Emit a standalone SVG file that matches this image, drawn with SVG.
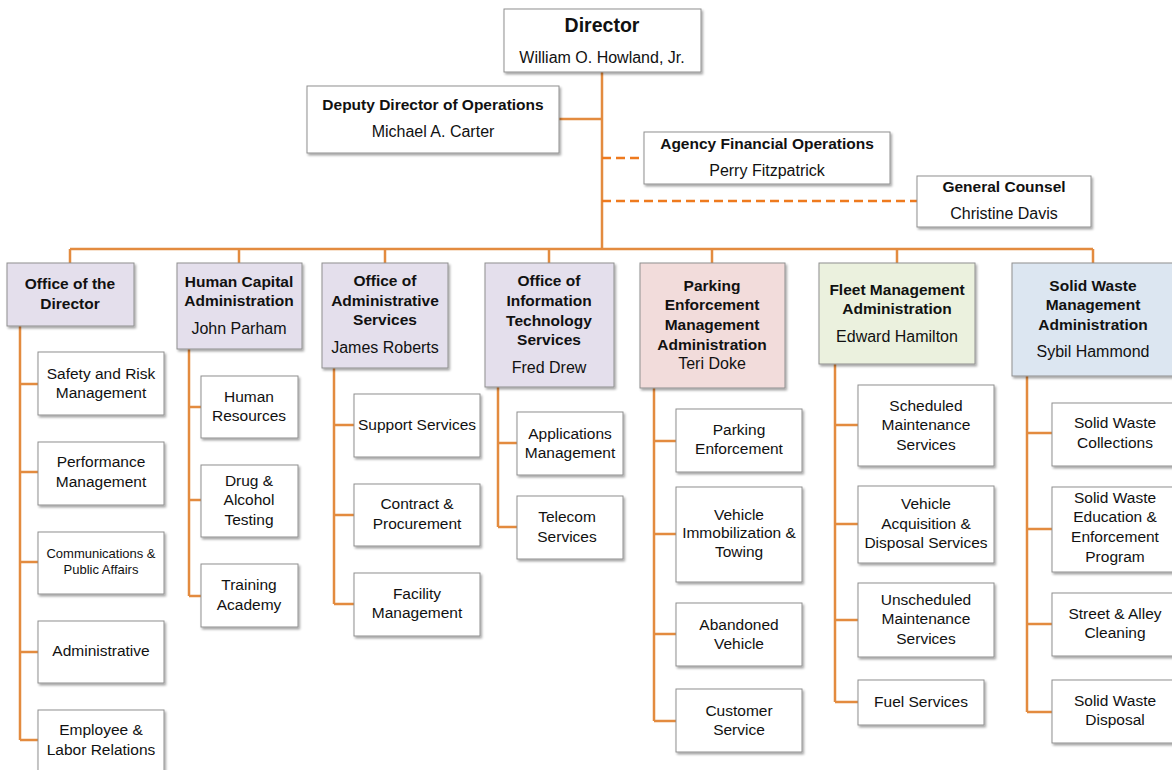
<svg xmlns="http://www.w3.org/2000/svg" width="1172" height="770" viewBox="0 0 1172 770">
<defs>
<filter id="sh" x="-10%" y="-10%" width="130%" height="130%">
<feDropShadow dx="1.5" dy="2" stdDeviation="1.2" flood-color="#000" flood-opacity="0.35"/>
</filter>
</defs>
<style>
.b{fill:#fff;stroke:#8f8f8f;stroke-width:1;filter:url(#sh)}
.p{fill:#E4DFEC}
.r{fill:#F2DCDB}
.g{fill:#EBF1DE}
.u{fill:#DCE6F1}
text{font-family:"Liberation Sans",Arial,sans-serif;fill:#111;text-anchor:middle}
.h{font-weight:bold;font-size:15.5px}
.n{font-size:16px}
.c{font-size:15.5px}
.s{font-size:13px}
.ln{fill:none;stroke:#E38B3F;stroke-width:2.5}
.dl{fill:none;stroke:#EE7A1E;stroke-width:2.5;stroke-dasharray:9,5}
</style>
<g id="connectors">
<path class="ln" d="M602 72V249M559 119H602M70 249H1093M70 249V263M239 249V263M385 249V263M549 249V263M712 249V263M897 249V263M1093 249V263"/>
<path class="dl" d="M602 158H644M602 201H917"/>
<path class="ln" d="M20 326V740M20 384H38M20 472H38M20 562H38M20 652H38M20 740H38"/>
<path class="ln" d="M189 349V596M189 407H201M189 500H201M189 596H201"/>
<path class="ln" d="M334 368V604M334 425H354M334 515H354M334 604H354"/>
<path class="ln" d="M498 387V527M498 443H517M498 527H517"/>
<path class="ln" d="M654 388V721M654 441H676M654 534H676M654 634H676M654 721H676"/>
<path class="ln" d="M835 364V702M835 425H858M835 524H858M835 620H858M835 702H858"/>
<path class="ln" d="M1027 376V712M1027 433H1052M1027 529H1052M1027 624H1052M1027 712H1052"/>
</g>
<g id="director"><rect class="b" x="504" y="9" width="197" height="63"/><text x="602" y="32" style="font-weight:bold;font-size:19.5px">Director</text><text class="n" x="602" y="63">William O. Howland, Jr.</text></g>
<g id="deputy"><rect class="b" x="307" y="86" width="252" height="67"/><text class="h" x="433" y="110">Deputy Director of Operations</text><text class="n" x="433" y="137">Michael A. Carter</text></g>
<g id="financial"><rect class="b" x="644" y="132" width="246" height="52"/><text class="h" x="767" y="149">Agency Financial Operations</text><text class="n" x="767" y="176">Perry Fitzpatrick</text></g>
<g id="counsel"><rect class="b" x="917" y="176" width="174" height="51"/><text class="h" x="1004" y="192">General Counsel</text><text class="n" x="1004" y="219">Christine Davis</text></g>

<g id="office-director"><rect class="b p" x="7" y="263" width="127" height="63"/><text class="h" x="70" y="289">Office of the</text><text class="h" x="70" y="309">Director</text></g>
<g id="human-capital"><rect class="b p" x="177" y="263" width="125" height="86"/><text class="h" x="239" y="287">Human Capital</text><text class="h" x="239" y="306">Administration</text><text class="n" x="239" y="334">John Parham</text></g>
<g id="admin-services"><rect class="b p" x="322" y="263" width="126" height="105"/><text class="h" x="385" y="286">Office of</text><text class="h" x="385" y="306">Administrative</text><text class="h" x="385" y="325">Services</text><text class="n" x="385" y="353">James Roberts</text></g>
<g id="oit"><rect class="b p" x="485" y="263" width="129" height="124"/><text class="h" x="549" y="286">Office of</text><text class="h" x="549" y="306">Information</text><text class="h" x="549" y="326">Technology</text><text class="h" x="549" y="345">Services</text><text class="n" x="549" y="373">Fred Drew</text></g>
<g id="parking"><rect class="b r" x="640" y="263" width="145" height="125"/><text class="h" x="712" y="291">Parking</text><text class="h" x="712" y="310">Enforcement</text><text class="h" x="712" y="330">Management</text><text class="h" x="712" y="350">Administration</text><text class="n" x="712" y="369">Teri Doke</text></g>
<g id="fleet"><rect class="b g" x="819" y="263" width="156" height="101"/><text class="h" x="897" y="295">Fleet Management</text><text class="h" x="897" y="314">Administration</text><text class="n" x="897" y="342">Edward Hamilton</text></g>
<g id="solid-waste"><rect class="b u" x="1012" y="263" width="170" height="113"/><text class="h" x="1093" y="291">Solid Waste</text><text class="h" x="1093" y="310">Management</text><text class="h" x="1093" y="330">Administration</text><text class="n" x="1093" y="357">Sybil Hammond</text></g>

<g id="safety"><rect class="b" x="38" y="352" width="126" height="63"/><text class="c" x="101" y="379">Safety and Risk</text><text class="c" x="101" y="398">Management</text></g>
<g id="performance"><rect class="b" x="38" y="442" width="126" height="63"/><text class="c" x="101" y="467">Performance</text><text class="c" x="101" y="487">Management</text></g>
<g id="communications"><rect class="b" x="38" y="532" width="126" height="62"/><text class="s" x="101" y="558">Communications &amp;</text><text class="s" x="101" y="574">Public Affairs</text></g>
<g id="administrative"><rect class="b" x="38" y="621" width="126" height="62"/><text class="c" x="101" y="656">Administrative</text></g>
<g id="employee"><rect class="b" x="38" y="710" width="126" height="70"/><text class="c" x="101" y="735">Employee &amp;</text><text class="c" x="101" y="755">Labor Relations</text></g>

<g id="human-resources"><rect class="b" x="201" y="376" width="97" height="62"/><text class="c" x="249" y="402">Human</text><text class="c" x="249" y="421">Resources</text></g>
<g id="drug-alcohol"><rect class="b" x="201" y="465" width="97" height="72"/><text class="c" x="249" y="486">Drug &amp;</text><text class="c" x="249" y="505">Alcohol</text><text class="c" x="249" y="525">Testing</text></g>
<g id="training"><rect class="b" x="201" y="564" width="97" height="63"/><text class="c" x="249" y="590">Training</text><text class="c" x="249" y="610">Academy</text></g>

<g id="support"><rect class="b" x="354" y="394" width="126" height="63"/><text class="c" x="417" y="430">Support Services</text></g>
<g id="contract"><rect class="b" x="354" y="484" width="126" height="62"/><text class="c" x="417" y="509">Contract &amp;</text><text class="c" x="417" y="529">Procurement</text></g>
<g id="facility"><rect class="b" x="354" y="573" width="126" height="63"/><text class="c" x="417" y="599">Facility</text><text class="c" x="417" y="618">Management</text></g>

<g id="applications"><rect class="b" x="517" y="412" width="106" height="63"/><text class="c" x="570" y="439">Applications</text><text class="c" x="570" y="458">Management</text></g>
<g id="telecom"><rect class="b" x="517" y="496" width="106" height="63"/><text class="c" x="567" y="522">Telecom</text><text class="c" x="567" y="542">Services</text></g>

<g id="parking-enforcement"><rect class="b" x="676" y="409" width="126" height="63"/><text class="c" x="739" y="435">Parking</text><text class="c" x="739" y="454">Enforcement</text></g>
<g id="immobilization"><rect class="b" x="676" y="487" width="126" height="95"/><text class="c" x="739" y="520">Vehicle</text><text class="c" x="739" y="538">Immobilization &amp;</text><text class="c" x="739" y="557">Towing</text></g>
<g id="abandoned"><rect class="b" x="676" y="603" width="126" height="63"/><text class="c" x="739" y="630">Abandoned</text><text class="c" x="739" y="649">Vehicle</text></g>
<g id="customer"><rect class="b" x="676" y="689" width="126" height="63"/><text class="c" x="739" y="716">Customer</text><text class="c" x="739" y="735">Service</text></g>

<g id="scheduled"><rect class="b" x="858" y="385" width="136" height="81"/><text class="c" x="926" y="411">Scheduled</text><text class="c" x="926" y="430">Maintenance</text><text class="c" x="926" y="450">Services</text></g>
<g id="acquisition"><rect class="b" x="858" y="486" width="136" height="77"/><text class="c" x="926" y="509">Vehicle</text><text class="c" x="926" y="529">Acquisition &amp;</text><text class="c" x="926" y="548">Disposal Services</text></g>
<g id="unscheduled"><rect class="b" x="858" y="583" width="136" height="74"/><text class="c" x="926" y="605">Unscheduled</text><text class="c" x="926" y="624">Maintenance</text><text class="c" x="926" y="644">Services</text></g>
<g id="fuel"><rect class="b" x="858" y="680" width="126" height="45"/><text class="c" x="921" y="707">Fuel Services</text></g>

<g id="collections"><rect class="b" x="1052" y="403" width="130" height="63"/><text class="c" x="1115" y="428">Solid Waste</text><text class="c" x="1115" y="448">Collections</text></g>
<g id="education"><rect class="b" x="1052" y="487" width="130" height="85"/><text class="c" x="1115" y="503">Solid Waste</text><text class="c" x="1115" y="522">Education &amp;</text><text class="c" x="1115" y="542">Enforcement</text><text class="c" x="1115" y="562">Program</text></g>
<g id="street"><rect class="b" x="1052" y="593" width="130" height="63"/><text class="c" x="1115" y="619">Street &amp; Alley</text><text class="c" x="1115" y="638">Cleaning</text></g>
<g id="disposal"><rect class="b" x="1052" y="680" width="130" height="63"/><text class="c" x="1115" y="706">Solid Waste</text><text class="c" x="1115" y="725">Disposal</text></g>
</svg>
